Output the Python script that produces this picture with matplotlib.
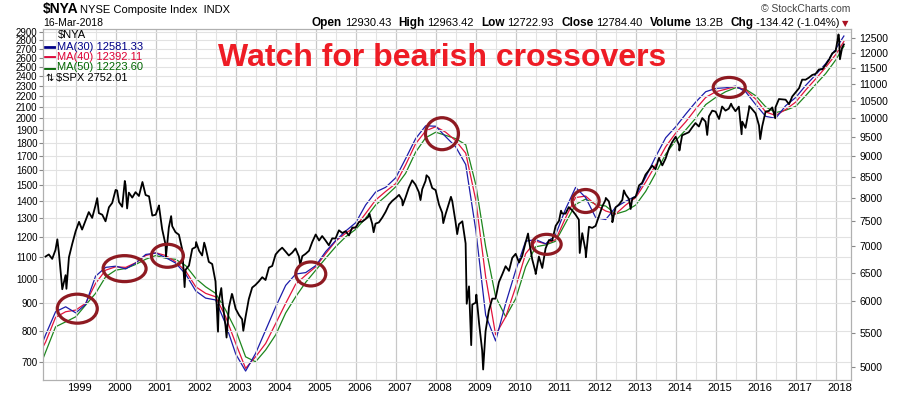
import matplotlib
matplotlib.use('Agg')
import matplotlib.pyplot as plt
import matplotlib.dates as mdates
from matplotlib.patches import Ellipse
from matplotlib.ticker import FixedLocator, NullLocator
from matplotlib.transforms import ScaledTranslation
import pandas as pd

plt.rcParams['font.family'] = ['Liberation Sans', 'DejaVu Sans']

# $SPX month-end closes, Mar 1998 .. Feb 2018
spx_monthly = [
    1102, 1112, 1091, 1134, 1121, 957, 1017, 1099, 1164, 1229,
    1280, 1238, 1286, 1335, 1302, 1373, 1329, 1320, 1283, 1363, 1389, 1469,
    1394, 1366, 1499, 1452, 1421, 1455, 1431, 1518, 1437, 1429, 1315, 1320,
    1366, 1240, 1160, 1249, 1256, 1224, 1211, 1134, 1041, 1060, 1139, 1148,
    1130, 1107, 1147, 1077, 1067, 990, 912, 916, 815, 886, 936, 880,
    856, 841, 848, 917, 964, 975, 990, 1008, 996, 1051, 1058, 1112,
    1131, 1145, 1126, 1107, 1121, 1141, 1102, 1104, 1115, 1130, 1174, 1212,
    1181, 1204, 1181, 1157, 1192, 1191, 1234, 1220, 1229, 1207, 1249, 1248,
    1280, 1281, 1295, 1311, 1270, 1270, 1277, 1304, 1336, 1378, 1401, 1418,
    1438, 1407, 1421, 1482, 1531, 1503, 1455, 1474, 1527, 1549, 1481, 1468,
    1379, 1331, 1323, 1386, 1400, 1280, 1267, 1283, 1166, 969, 896, 903,
    826, 735, 798, 873, 919, 919, 987, 1021, 1057, 1036, 1096, 1115,
    1074, 1104, 1169, 1187, 1089, 1031, 1102, 1049, 1141, 1183, 1181, 1258,
    1286, 1327, 1326, 1364, 1345, 1321, 1292, 1219, 1131, 1253, 1247, 1258,
    1312, 1366, 1408, 1398, 1310, 1362, 1379, 1407, 1441, 1412, 1416, 1426,
    1498, 1515, 1569, 1598, 1631, 1606, 1686, 1633, 1682, 1757, 1806, 1848,
    1783, 1859, 1872, 1884, 1924, 1960, 1931, 2003, 1972, 2018, 2068, 2059,
    1995, 2105, 2068, 2086, 2107, 2063, 2104, 1972, 1920, 2079, 2080, 2044,
    1940, 1932, 2060, 2065, 2097, 2099, 2174, 2171, 2168, 2126, 2199, 2239,
    2279, 2364, 2363, 2384, 2412, 2423, 2470, 2472, 2519, 2575, 2648, 2674,
    2824, 2714,
]
# intra-month swings of $SPX
spx_swing_dates = [
    '1998-07-17', '1998-10-08', '1999-07-16', '2000-01-14', '2000-03-24', '2000-04-14',
    '2000-09-01', '2001-01-30', '2001-04-04', '2001-05-21', '2001-09-21', '2002-01-04',
    '2002-03-19', '2002-07-23', '2002-08-22', '2002-10-09', '2002-11-27', '2003-03-11',
    '2004-08-12', '2006-05-05', '2006-06-13', '2007-03-05', '2007-08-15', '2007-10-09',
    '2008-03-10', '2008-05-19', '2008-07-15', '2008-10-10', '2008-11-20', '2009-01-06',
    '2009-03-09', '2010-04-23', '2010-07-02', '2011-02-18', '2011-04-29', '2011-08-08',
    '2011-10-03', '2012-04-02', '2012-06-01', '2012-09-14', '2012-11-15', '2014-02-03',
    '2014-10-15', '2015-05-21', '2015-08-25', '2015-11-03', '2016-02-11', '2016-06-27',
    '2018-01-26', '2018-02-08', '2018-03-16',
]
spx_swing = [
    1187, 959, 1418, 1465, 1527, 1356,
    1520, 1374, 1103, 1312, 966, 1173,
    1170, 797, 962, 777, 938, 800,
    1064, 1326, 1224, 1374, 1406, 1565,
    1273, 1426, 1214, 899, 752, 935,
    677, 1217, 1022, 1343, 1364, 1119,
    1099, 1419, 1278, 1466, 1353, 1741,
    1862, 2131, 1868, 2109, 1829, 2001,
    2873, 2581, 2752,
]

# $NYA moving averages, read at quarter starts
ma_inner_dates = pd.date_range('1998-04-01', '2018-01-01', freq='QS')
ma_dates = [pd.Timestamp('1998-03-09')] + list(ma_inner_dates) + [pd.Timestamp('2018-03-16')]
ma30 = [
    5372, 5467, 5830, 5911, 5812, 5950, 6438, 6598, 6620, 6570, 6678, 6840,
    6867, 6781, 6678, 6474, 6178, 6056, 6025, 5631, 5181, 4941, 5189, 5538,
    5911, 6275, 6476, 6503, 6631, 6894, 7110, 7302, 7475, 7852, 8141, 8250,
    8472, 8935, 9447, 9793, 9782, 9500, 9238, 8790, 7322, 5775, 5374, 5968,
    6547, 7098, 7130, 7046, 7234, 7766, 8247, 8017, 7580, 7540, 7803, 7934,
    8050, 8485, 8984, 9473, 9769, 10116, 10460, 10770, 10870, 10890, 10940, 10770,
    10390, 10055, 10000, 10360, 10600, 10960, 11290, 11650, 12140, 12581,
]
ma40 = [
    5287, 5358, 5740, 5830, 5857, 5968, 6310, 6547, 6609, 6598, 6683, 6820,
    6873, 6820, 6703, 6530, 6250, 6137, 6078, 5748, 5336, 4978, 5141, 5336,
    5643, 5968, 6296, 6456, 6609, 6855, 7098, 7258, 7393, 7669, 7961, 8155,
    8336, 8780, 9313, 9655, 9769, 9620, 9397, 9074, 7961, 6427, 5467, 5748,
    6250, 6855, 7098, 7046, 7130, 7580, 8017, 8050, 7852, 7722, 7657, 7852,
    8017, 8370, 8780, 9238, 9600, 9900, 10260, 10600, 10770, 10845, 10930, 10820,
    10550, 10180, 10080, 10250, 10465, 10820, 11160, 11530, 11950, 12392,
]
ma50 = [
    5118, 5211, 5590, 5668, 5748, 5939, 6137, 6427, 6547, 6578, 6652, 6750,
    6820, 6767, 6748, 6630, 6398, 6250, 6137, 5857, 5538, 5141, 5070, 5240,
    5467, 5810, 6078, 6329, 6547, 6767, 6988, 7186, 7337, 7569, 7852, 8046,
    8262, 8577, 9097, 9473, 9620, 9536, 9450, 9290, 8310, 6988, 6078, 5748,
    6047, 6609, 6988, 7025, 7098, 7470, 7866, 7982, 7866, 7830, 7657, 7722,
    7852, 8155, 8577, 9050, 9400, 9680, 10000, 10390, 10600, 10770, 10890, 10845,
    10650, 10325, 10160, 10230, 10340, 10650, 10990, 11330, 11770, 12224,
]

# crossover spots circled on the chart (date, NYA level)
cross_dates = ['1999-01-15', '2000-03-22', '2001-04-17', '2004-11-16',
               '2008-02-27', '2010-10-10', '2011-10-01', '2015-05-04']
cross_levels = [5880, 6575, 6815, 6478, 9580, 7036, 7940, 10900]
cross_w = [40, 43, 32, 30, 33, 29, 27, 32]
cross_h = [29, 26, 23, 24, 32, 20, 23, 20]

left_ticks = list(range(700, 3000, 100))
right_ticks = list(range(5000, 13000, 500))

spx = pd.concat([
    pd.Series(spx_monthly, index=pd.date_range('1998-03-31', periods=len(spx_monthly), freq='ME')),
    pd.Series(spx_swing, index=pd.to_datetime(spx_swing_dates)),
]).sort_index()

W, H = 900, 396
fig = plt.figure(figsize=(W / 100, H / 100), dpi=100)
ax = fig.add_axes([43 / W, 16 / H, 808 / W, 351 / H])
ax2 = ax.twinx()
ax.set_zorder(3)
ax2.set_zorder(2)
ax.patch.set_visible(False)

blue, red, green = '#1c1caa', '#e3143c', '#1d861d'
ax2.plot(ma_dates, ma50, color=green, lw=0.9)
ax2.plot(ma_dates, ma40, color=red, lw=0.9)
ax2.plot(ma_dates, ma30, color=blue, lw=0.9)
ax.plot(spx.index, spx.values, color='black', lw=1.3)

ax.set_xlim(pd.Timestamp('1998-03-08'), pd.Timestamp('2018-05-20'))
for a in (ax, ax2):
    a.set_yscale('log')
    a.yaxis.set_minor_locator(NullLocator())
    for s in a.spines.values():
        s.set_color('#b0b0b0')
ax.set_ylim(647, 2941)
ax2.set_ylim(4819, 12830)
ax.yaxis.set_major_locator(FixedLocator(left_ticks))
ax.set_yticklabels([str(t) for t in left_ticks])
ax2.yaxis.set_major_locator(FixedLocator(right_ticks))
ax2.set_yticklabels([str(t) for t in right_ticks])
ax.tick_params(axis='y', labelsize=7, length=3, pad=1, color='#888888')
ax2.tick_params(axis='y', labelsize=7.5, length=3, pad=3, color='#888888')

ax.xaxis.set_major_locator(mdates.YearLocator(1, month=1, day=1))
ax.xaxis.set_minor_locator(mdates.MonthLocator(bymonth=7))
ax.xaxis.set_major_formatter(mdates.DateFormatter('%Y'))
ax.tick_params(axis='x', which='both', length=0, labelsize=8, pad=2)
for lab in ax.get_xticklabels():
    lab.set_transform(lab.get_transform() + ScaledTranslation(0.04, 0, fig.dpi_scale_trans))
ax.grid(True, axis='x', which='major', color='#c8c8c8', lw=0.9)
ax.grid(True, axis='x', which='minor', color='#e2e2e2', lw=0.8)
ax.grid(True, axis='y', which='major', color='#e2e2e2', lw=0.8)
ax.set_axisbelow(True)

# circles round the crossovers
fig.canvas.draw()
ax_w, ax_h = 808, 351
for d, v, w, h in zip(cross_dates, cross_levels, cross_w, cross_h):
    px = ax2.transData.transform((mdates.date2num(pd.Timestamp(d)), v))
    fx, fy = ax.transAxes.inverted().transform(px)
    ax.add_patch(Ellipse((fx, fy), w / ax_w, h / ax_h, transform=ax.transAxes,
                         fill=False, ec='#8e1a22', lw=2.3, zorder=10))

def fpos(x, y):
    return x / W, 1 - y / H

# header texts
fig.text(*fpos(43, 13), '$NYA', fontsize=10, fontweight='bold', va='baseline')
fig.text(*fpos(80, 13), 'NYSE Composite Index  INDX', fontsize=8, va='baseline')
fig.text(*fpos(43, 26), '16-Mar-2018', fontsize=7.5, va='baseline')
fig.text(*fpos(850, 12), '\u00a9 StockCharts.com', fontsize=7.5, color='#444444',
         ha='right', va='baseline')

renderer = fig.canvas.get_renderer()
pieces = [('Open', 'bold'), ('12930.43', 'normal'), ('High', 'bold'), ('12963.42', 'normal'),
          ('Low', 'bold'), ('12722.93', 'normal'), ('Close', 'bold'), ('12784.40', 'normal'),
          ('Volume', 'bold'), ('13.2B', 'normal'), ('Chg', 'bold'), ('-134.42 (-1.04%)', 'normal')]
texts = []
for s, wgt in pieces:
    texts.append(fig.text(0, 1 - 26 / H, s, fontsize=8.5 if wgt == 'bold' else 8,
                          fontweight=wgt, va='baseline'))
widths = [t.get_window_extent(renderer).width for t in texts]
gaps = [3 if wgt == 'bold' else 7 for _, wgt in pieces]
x = 840 - (sum(widths) + sum(gaps[:-1]))
for t, wd, g in zip(texts, widths, gaps):
    t.set_x(x / W)
    x += wd + g
fig.text(*fpos(842, 26), '\u25bc', fontsize=6, color='#aa1122', va='baseline',
         family=['DejaVu Sans'])

# legend block
fig.text(*fpos(58, 38), '$NYA', fontsize=8, va='baseline')
legend_rows = [('MA(30) 12581.33', '#000088'), ('MA(40) 12392.11', '#dd0033'),
               ('MA(50) 12223.60', '#006600')]
for i, (s, c) in enumerate(legend_rows):
    yy = 49.5 + i * 10.5
    fig.add_artist(plt.Line2D([45 / W, 55 / W], [1 - (yy - 3) / H, 1 - (yy - 3) / H],
                              color=c, lw=2))
    fig.text(*fpos(57, yy), s, fontsize=8, color=c, va='baseline')
fig.text(*fpos(45, 81), '\u21c5', fontsize=7, va='baseline', family=['DejaVu Sans'])
fig.text(*fpos(56, 81), '$SPX 2752.01', fontsize=8, va='baseline')

fig.text(*fpos(442, 58), 'Watch for bearish crossovers', fontsize=23, fontweight='bold',
         color='#ee1c25', ha='center', va='center')

fig.savefig('out.png', dpi=100)
